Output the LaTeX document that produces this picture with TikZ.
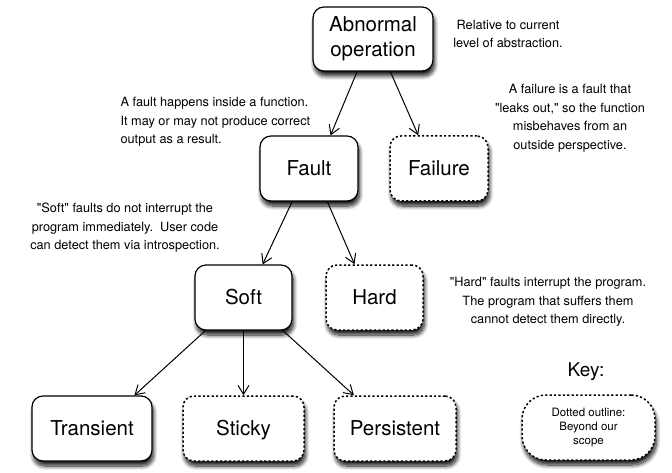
\documentclass[tikz,border=0pt]{standalone}
\usepackage{fontspec}
\setmainfont{TeX Gyre Heros}
\usetikzlibrary{arrows.meta,shadows.blur}
\newcommand{\qq}{\textquotedbl}
\tikzset{
	frame/.style={draw, fill=white, line width=1.2pt, rounded corners=11pt, align=center,
		minimum width=98pt, minimum height=65pt, inner sep=0pt,
		font=\fontsize{20.5}{24.5}\selectfont,
		blur shadow={shadow xshift=1.5pt, shadow yshift=-5pt, shadow opacity=90,
			shadow blur radius=4pt, shadow blur steps=10}},
	box/.style={frame, text height=15.5pt, text depth=1pt},
	outofscope/.style={line width=1.5pt, dash pattern=on 2.2pt off 2.2pt},
	note/.style={align=center, font=\fontsize{12.75}{18.5}\selectfont},
	link/.style={-{Straight Barb[length=9pt, width=11pt]}, line width=1pt}
}

\begin{document}
\begin{tikzpicture}[x=1pt, y=-1pt]
		%%%%% START %%%%%
		\useasboundingbox (0, 0) rectangle (672, 473);
		
		\node[frame, minimum width=120pt, minimum height=64pt] (abnormal) at (373, 39) {Abnormal\\operation};
		
		\node[box] (fault) at (309, 168.5) {Fault};
		\node[box, outofscope] (failure) at (439, 168.5) {Failure};
		
		\node[box, minimum width=97pt] (soft) at (243.5, 297.5) {Soft};
		\node[box, outofscope, minimum width=97pt] (hard) at (374.5, 297.5) {Hard};
		
		\node[box, minimum width=120pt] (transient) at (92, 428.5) {Transient};
		\node[box, outofscope, minimum width=121pt] (sticky) at (243.5, 428.5) {Sticky};
		\node[box, outofscope, minimum width=122pt] (persistent) at (395, 428.5) {Persistent};
		
		\draw[link] (abnormal.-116.6) -- (fault.57.1);
		\draw[link] (abnormal.-62) -- (failure.122.9);
		
		\draw[link] (fault.-117.6) -- (soft.60.3);
		\draw[link] (fault.-61) -- (hard.121);
		
		\draw[link] (soft.-139.8) -- (transient.38.4);
		\draw[link] (soft.south) -- (sticky.north);
		\draw[link] (soft.-40.2) -- (persistent.141.6);
		
		% remarks
		\node[note] (relnote) at (508, 34) {Relative to current\\level of abstraction.};
		\node[note] (failnote) at (570, 118) {A failure is a fault that\\\qq leaks out,\qq{} so the function\\misbehaves from an\\outside perspective.};
		\node[note, align=left, anchor=west] (faultnote) at (117, 122) {A fault happens inside a function.\\It may or may not produce correct\\output as a result.};
		\node[note] (softnote) at (125, 228) {\qq Soft\qq{} faults do not interrupt the\\program immediately.\ \ User code\\can detect them via introspection.};
		\node[note] (hardnote) at (548, 302) {\qq Hard\qq{} faults interrupt the program.\\The program that suffers them\\cannot detect them directly.};
		
		% key
		\node[font=\fontsize{19}{22}\selectfont] (keytitle) at (586, 372) {Key:};
		\node[frame, outofscope, rounded corners=24pt, minimum width=133pt, font=\fontsize{11.5}{14}\selectfont] (keybox) at (588.5, 427.5) {Dotted outline:\\Beyond our\\scope};
		
		%%%%% END %%%%%
	\end{tikzpicture}
\end{document}
